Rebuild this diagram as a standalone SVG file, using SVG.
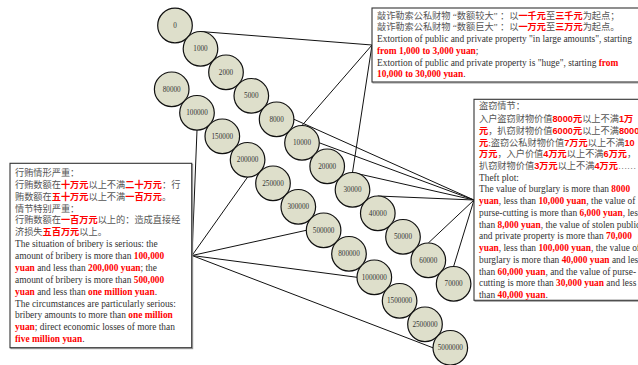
<svg xmlns="http://www.w3.org/2000/svg" width="638" height="365" viewBox="0 0 638 365">
<style>
.bg{fill:#fff}
.box{fill:#fff;stroke:#333;stroke-width:1.1}
.sh{fill:none;stroke:#999;stroke-width:1}
.c{fill:#dedfcb;stroke:#111;stroke-width:1.2}
.ct{font-family:"Liberation Serif",serif;font-size:7.2px;fill:#333;text-anchor:middle}
.en{font-family:"Liberation Serif",serif;font-size:9.4px;fill:#333}
.zh{font-family:"Liberation Serif","Noto Sans CJK SC",serif;font-size:9.2px;fill:#555}
.r{fill:#f00;font-weight:bold}
.zr{fill:#f00;font-weight:bold;font-family:"Liberation Sans","Noto Sans CJK SC",sans-serif}
.ln{stroke:#111;stroke-width:1;fill:none}
</style>
<rect class="bg" x="0" y="0" width="638" height="365"/>
<g id="connectors">
<path class="ln" d="M372,45L200.5,31.5M372,45L302,125.5M372,45L352.5,172.5"/>
<path class="ln" d="M474,200L294,119.3M474,200L319.3,142.8M474,200L352.5,172.5M474,200L377.8,196M474,200L428.3,243M474,200L453.6,266.5"/>
<path class="ln" d="M192,255.5L197,130.1M192,255.5L247.6,177.1M192,255.5L306.3,230.3M192,255.5L357,277.3M192,255.5L433,347.8"/>
</g>
<g id="n0"><circle class="c" cx="175" cy="25.5" r="17.3"/><text class="ct" x="175" y="28">0</text></g>
<g id="n1000"><circle class="c" cx="200.5" cy="48.8" r="17.3"/><text class="ct" x="200.5" y="51.3">1000</text></g>
<g id="n2000"><circle class="c" cx="226" cy="72.3" r="17.3"/><text class="ct" x="226" y="74.8">2000</text></g>
<g id="n5000"><circle class="c" cx="251.3" cy="95.8" r="17.3"/><text class="ct" x="251.3" y="98.3">5000</text></g>
<g id="n8000"><circle class="c" cx="276.6" cy="119.3" r="17.3"/><text class="ct" x="276.6" y="121.8">8000</text></g>
<g id="n10000"><circle class="c" cx="302" cy="142.8" r="17.3"/><text class="ct" x="302" y="145.3">10000</text></g>
<g id="n20000"><circle class="c" cx="327.2" cy="166.3" r="17.3"/><text class="ct" x="327.2" y="168.8">20000</text></g>
<g id="n30000"><circle class="c" cx="352.5" cy="189.8" r="17.3"/><text class="ct" x="352.5" y="192.3">30000</text></g>
<g id="n40000"><circle class="c" cx="377.8" cy="213.3" r="17.3"/><text class="ct" x="377.8" y="215.8">40000</text></g>
<g id="n50000"><circle class="c" cx="403" cy="236.8" r="17.3"/><text class="ct" x="403" y="239.3">50000</text></g>
<g id="n60000"><circle class="c" cx="428.3" cy="260.3" r="17.3"/><text class="ct" x="428.3" y="262.8">60000</text></g>
<g id="n70000"><circle class="c" cx="453.6" cy="283.8" r="17.3"/><text class="ct" x="453.6" y="286.3">70000</text></g>
<g id="n80000"><circle class="c" cx="171.7" cy="89.3" r="17.3"/><text class="ct" x="171.7" y="91.8">80000</text></g>
<g id="n100000"><circle class="c" cx="197" cy="112.8" r="17.3"/><text class="ct" x="197" y="115.3">100000</text></g>
<g id="n150000"><circle class="c" cx="222.3" cy="136.3" r="17.3"/><text class="ct" x="222.3" y="138.8">150000</text></g>
<g id="n200000"><circle class="c" cx="247.6" cy="159.8" r="17.3"/><text class="ct" x="247.6" y="162.3">200000</text></g>
<g id="n250000"><circle class="c" cx="273" cy="183.3" r="17.3"/><text class="ct" x="273" y="185.8">250000</text></g>
<g id="n300000"><circle class="c" cx="298.3" cy="206.8" r="17.3"/><text class="ct" x="298.3" y="209.3">300000</text></g>
<g id="n500000"><circle class="c" cx="323.6" cy="230.3" r="17.3"/><text class="ct" x="323.6" y="232.8">500000</text></g>
<g id="n800000"><circle class="c" cx="349" cy="253.8" r="17.3"/><text class="ct" x="349" y="256.3">800000</text></g>
<g id="n1000000"><circle class="c" cx="374.3" cy="277.3" r="17.3"/><text class="ct" x="374.3" y="279.8">1000000</text></g>
<g id="n1500000"><circle class="c" cx="399.6" cy="300.8" r="17.3"/><text class="ct" x="399.6" y="303.3">1500000</text></g>
<g id="n2500000"><circle class="c" cx="425" cy="324.3" r="17.3"/><text class="ct" x="425" y="326.8">2500000</text></g>
<g id="n5000000"><circle class="c" cx="450.3" cy="347.8" r="17.3"/><text class="ct" x="450.3" y="350.3">5000000</text></g>
<g id="extortion">
<rect class="sh" x="373" y="9" width="300" height="74"/>
<rect class="box" x="372" y="8" width="300" height="74"/>
<text class="zh" x="377" y="18.8">敲诈勒索公私财物 “数额较大” ：以<tspan class="zr">一千元</tspan>至<tspan class="zr">三千元</tspan>为起点；</text>
<text class="zh" x="377" y="30.2">敲诈勒索公私财物 “数额巨大” ：以<tspan class="zr">一万元</tspan>至<tspan class="zr">三万元</tspan>为起点。</text>
<text class="en" x="377" y="42.3">Extortion of public and private property "in large amounts", starting</text>
<text class="en" x="377" y="54.2"><tspan class="r">from 1,000 to 3,000 yuan</tspan>;</text>
<text class="en" x="377" y="65.8">Extortion of public and private property is "huge", starting <tspan class="r">from</tspan></text>
<text class="en" x="377" y="77"><tspan class="r">10,000 to 30,000 yuan</tspan>.</text>
</g>
<g id="theft">
<rect class="sh" x="475" y="100.3" width="200" height="201"/>
<rect class="box" x="474" y="99.3" width="200" height="201"/>
<text class="zh" x="479" y="109">盗窃情节：</text>
<text class="zh" x="479" y="121.5">入户盗窃财物价值<tspan class="zr">8000元</tspan>以上不满<tspan class="zr">1万</tspan></text>
<text class="zh" x="479" y="133.5"><tspan class="zr">元</tspan>，扒窃财物价值<tspan class="zr">6000元</tspan>以上不满<tspan class="zr">8000元</tspan></text>
<text class="zh" x="479" y="145.5"><tspan class="zr">元</tspan>;盗窃公私财物价值<tspan class="zr">7万元</tspan>以上不满<tspan class="zr">10</tspan></text>
<text class="zh" x="479" y="157"><tspan class="zr">万元</tspan>，入户价值<tspan class="zr">4万元</tspan>以上不满<tspan class="zr">6万元</tspan>，</text>
<text class="zh" x="479" y="168.6">扒窃财物价值<tspan class="zr">3万元</tspan>以上不满<tspan class="zr">4万元</tspan>……</text>
<text class="en" x="479" y="180.5">Theft plot:</text>
<text class="en" x="479" y="192.3">The value of burglary is more than <tspan class="r">8000</tspan></text>
<text class="en" x="479" y="204"><tspan class="r">yuan</tspan>, less than <tspan class="r">10,000 yuan</tspan>, the value of</text>
<text class="en" x="479" y="215.8">purse-cutting is more than <tspan class="r">6,000 yuan</tspan>, less</text>
<text class="en" x="479" y="227.5">than <tspan class="r">8,000 yuan</tspan>, the value of stolen public</text>
<text class="en" x="479" y="239.3">and private property is more than <tspan class="r">70,000</tspan></text>
<text class="en" x="479" y="251"><tspan class="r">yuan</tspan>, less than <tspan class="r">100,000 yuan</tspan>, the value of</text>
<text class="en" x="479" y="262.8">burglary is more than <tspan class="r">40,000 yuan</tspan> and less</text>
<text class="en" x="479" y="274.5">than <tspan class="r">60,000 yuan</tspan>, and the value of purse-</text>
<text class="en" x="479" y="286.3">cutting is more than <tspan class="r">30,000 yuan</tspan> and less</text>
<text class="en" x="479" y="298">than <tspan class="r">40,000 yuan</tspan>.</text>
</g>
<g id="bribery">
<rect class="sh" x="11" y="164.3" width="181.7" height="184.4"/>
<rect class="box" x="10" y="163.3" width="181.7" height="184.4"/>
<text class="zh" x="15" y="176.3">行贿情形严重：</text>
<text class="zh" x="15" y="188">行贿数额在<tspan class="zr">十万元</tspan>以上不满<tspan class="zr">二十万元</tspan>：行</text>
<text class="zh" x="15" y="199.7">贿数额在<tspan class="zr">五十万元</tspan>以上不满<tspan class="zr">一百万元</tspan>。</text>
<text class="zh" x="15" y="211.8">情节特别严重：</text>
<text class="zh" x="15" y="223.4">行贿数额在<tspan class="zr">一百万元</tspan>以上的：造成直接经</text>
<text class="zh" x="15" y="234.6">济损失<tspan class="zr">五百万元</tspan>以上。</text>
<text class="en" x="15" y="246.5">The situation of bribery is serious: the</text>
<text class="en" x="15" y="258.6">amount of bribery is more than <tspan class="r">100,000</tspan></text>
<text class="en" x="15" y="270.7"><tspan class="r">yuan</tspan> and less than <tspan class="r">200,000 yuan</tspan>; the</text>
<text class="en" x="15" y="282.8">amount of bribery is more than <tspan class="r">500,000</tspan></text>
<text class="en" x="15" y="294.9"><tspan class="r">yuan</tspan> and less than <tspan class="r">one million yuan</tspan>.</text>
<text class="en" x="15" y="306.6">The circumstances are particularly serious:</text>
<text class="en" x="15" y="318.3">bribery amounts to more than <tspan class="r">one million</tspan></text>
<text class="en" x="15" y="330.3"><tspan class="r">yuan</tspan>; direct economic losses of more than</text>
<text class="en" x="15" y="342.3"><tspan class="r">five million yuan</tspan>.</text>
</g>
</svg>
